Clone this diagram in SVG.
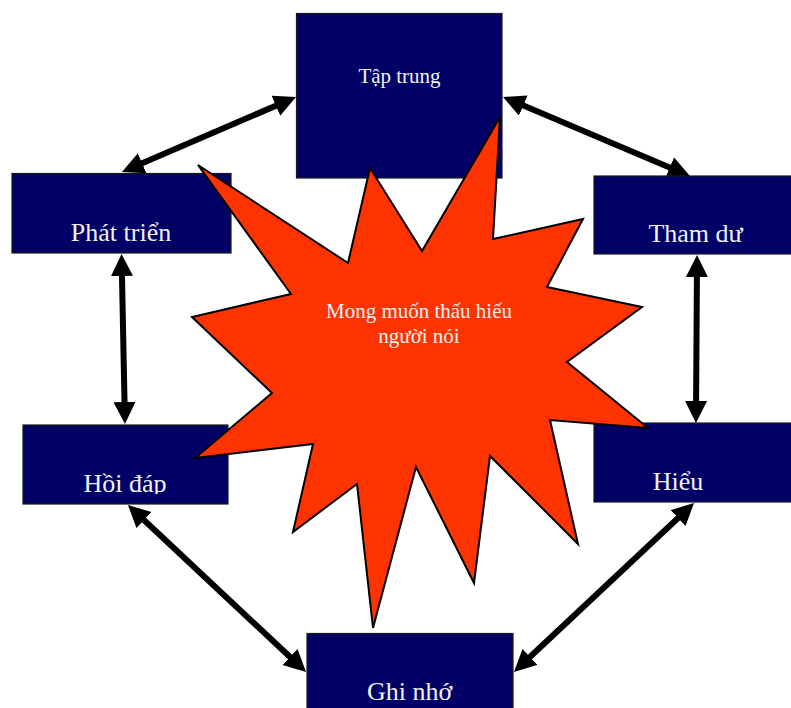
<svg xmlns="http://www.w3.org/2000/svg" width="791" height="708" viewBox="0 0 791 708">
<style>
.box{fill:#000066;stroke:#1a1a1a;stroke-width:1.2}
.lbl{font-family:"Liberation Serif","Times New Roman",serif;fill:#f2f2f2;text-anchor:middle}
.big{font-size:26px}
.small{font-size:21px}
.conn line{stroke:#000;stroke-width:6;marker-start:url(#ah);marker-end:url(#ah)}
</style>
<defs>
<marker id="ah" markerUnits="userSpaceOnUse" markerWidth="24" markerHeight="24" refX="14" refY="11" orient="auto-start-reverse" viewBox="0 0 24 24">
<path d="M0,0 L22,11 L0,22 Z" fill="#000"/>
</marker>
<clipPath id="clipHoi"><rect x="0" y="420" width="260" height="74"/></clipPath>
</defs>
<rect width="791" height="708" fill="#fff"/>
<g id="connectors" class="conn">
<line x1="288.7" y1="100.2" x2="129.3" y2="168.8"/>
<line x1="510.4" y1="100.1" x2="682.6" y2="172.9"/>
<line x1="121.7" y1="262" x2="124.8" y2="416"/>
<line x1="697" y1="263" x2="696" y2="415"/>
<line x1="133.8" y1="510.5" x2="300.2" y2="666.5"/>
<line x1="688.2" y1="508.5" x2="519.8" y2="666.5"/>
</g>
<g id="tap-trung">
<rect class="box" x="296.5" y="13.5" width="205.5" height="164.5"/>
<text class="lbl small" x="399.5" y="83">Tập trung</text>
</g>
<g id="phat-trien">
<rect class="box" x="12" y="173.5" width="219" height="79.5"/>
<text class="lbl big" x="121" y="241">Phát triển</text>
</g>
<g id="tham-du">
<rect class="box" x="594" y="176" width="206" height="78"/>
<text class="lbl big" x="695.5" y="242">Tham dư</text>
</g>
<g id="hoi-dap">
<rect class="box" x="23" y="425" width="205" height="79"/>
<text class="lbl big" x="125" y="492" clip-path="url(#clipHoi)">Hồi đáp</text>
</g>
<g id="hieu">
<rect class="box" x="594" y="423" width="206" height="79"/>
<text class="lbl big" x="678" y="490">Hiểu</text>
</g>
<g id="ghi-nho">
<rect class="box" x="307" y="633.5" width="206" height="80"/>
<text class="lbl big" x="409.5" y="700">Ghi nhớ</text>
</g>
<g id="mong-muon">
<polygon points="198,165 348,263 370,168 422,251 500,117 493,239 583,219 547,287 642,307 567,362 648,428 550,420 578,544 490,456 474,583 416,467 373,628 357,484 293,532 313,444 195,458 272,393 192,317 291,294" fill="#ff3300" stroke="#000" stroke-width="2" stroke-linejoin="miter"/>
<text class="lbl small" x="419" y="318">Mong muốn thấu hiếu</text>
<text class="lbl small" x="419" y="343">người nói</text>
</g>
</svg>
